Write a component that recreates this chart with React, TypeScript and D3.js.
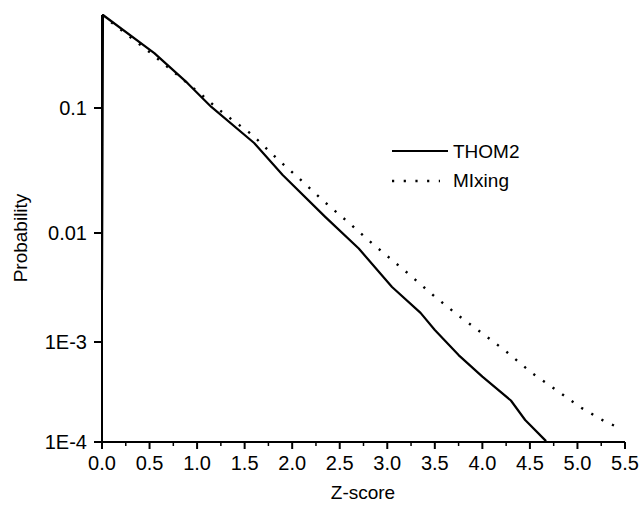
import React from 'react'
import * as d3 from 'd3'

// Z-score positions and probabilities
const thomZ = [0, 0.01, 0.55, 0.9, 1.15, 1.6, 1.9, 2.35, 2.7, 3.05, 3.35, 3.5, 3.75, 4.0, 4.3, 4.45, 4.67]
const thomP = [0.003, 0.555, 0.275, 0.158, 0.102, 0.0525, 0.0291, 0.0134, 0.0072, 0.0032, 0.00185, 0.00129, 0.00074, 0.00045, 0.00026, 0.000166, 0.000102]

const mixZ = [0, 0.5, 1.05, 1.17, 1.3, 1.58, 1.83, 2.08, 2.33, 2.6, 2.85, 3.24, 3.48, 3.74, 4.0, 4.26, 4.52, 4.78, 5.04, 5.29, 5.43]
const mixP = [0.555, 0.28, 0.127, 0.106, 0.088, 0.061, 0.04, 0.027, 0.018, 0.012, 0.0079, 0.0041, 0.0027, 0.00177, 0.0012, 0.00079, 0.00049, 0.00033, 0.00022, 0.00016, 0.00014]

const xTicks = [0, 0.5, 1, 1.5, 2, 2.5, 3, 3.5, 4, 4.5, 5, 5.5]
const xMinor = [0.25, 0.75, 1.25, 1.75, 2.25, 2.75, 3.25, 3.75, 4.25, 4.75, 5.25]
const yTicks = [0.1, 0.01, 0.001, 0.0001]
const yTickLabels = ['0.1', '0.01', '1E-3', '1E-4']

const seriesNames = ['THOM2', 'MIxing']

const font = 'Arial, "Liberation Sans", Helvetica, sans-serif'

function App() {
    const w = 643
    const h = 506

    const x = d3.scaleLinear().domain([0, 5.5]).range([102, 625])
    // the scanned figure has uneven decade spacing, so the log scale is piecewise
    const y = d3.scaleLog()
        .domain([0.0001, 0.001, 0.01, 0.1, 0.555])
        .range([442, 342, 233, 108, 15])

    const thomPath = d3.line<number>()
        .x((d) => x(d))
        .y((d, i) => y(thomP[i]))(thomZ)
    const mixPath = d3.line<number>()
        .x((d) => x(d))
        .y((d, i) => y(mixP[i]))(mixZ)

    const x0 = x(0)
    const y0 = y(0.0001)

    return (
        <svg width={w} height={h} style={{ position: 'absolute', left: 0, top: 0, background: '#fff' }}
            fontFamily={font}>
            <rect width={w} height={h} fill="#fff" />

            {/* axes */}
            <line x1={x0} x2={x0} y1={y(0.555)} y2={y0} stroke="#000" strokeWidth={2} />
            <line x1={x0} x2={x(5.5)} y1={y0} y2={y0} stroke="#000" strokeWidth={2} />

            {xTicks.map((t) => (
                <g key={t}>
                    <line x1={x(t)} x2={x(t)} y1={y0} y2={y0 + 7} stroke="#000" strokeWidth={2} />
                    <text x={x(t)} y={470} fontSize={20} textAnchor="middle" fill="#000">{d3.format('.1f')(t)}</text>
                </g>
            ))}
            {xMinor.map((t) => (
                <line key={t} x1={x(t)} x2={x(t)} y1={y0} y2={y0 + 4} stroke="#000" strokeWidth={1.5} />
            ))}

            {yTicks.map((t, i) => (
                <g key={t}>
                    <line x1={x0 - 8} x2={x0} y1={y(t)} y2={y(t)} stroke="#000" strokeWidth={2} />
                    <text x={87} y={y(t)} dy="0.36em" fontSize={20} textAnchor="end" fill="#000">{yTickLabels[i]}</text>
                </g>
            ))}

            <text x={363} y={499} fontSize={19} textAnchor="middle" fill="#000">Z-score</text>
            <text transform="translate(27,238) rotate(-90)" fontSize={19} textAnchor="middle" fill="#000">Probability</text>

            {/* data */}
            <path d={thomPath || ''} fill="none" stroke="#000" strokeWidth={2.2} strokeLinejoin="round" />
            <path d={mixPath || ''} fill="none" stroke="#000" strokeWidth={2.4} strokeDasharray="2.2 9.5" />

            {/* legend */}
            <line x1={392} x2={448} y1={151} y2={151} stroke="#000" strokeWidth={2.2} />
            <text x={453} y={158} fontSize={19} fill="#000">{seriesNames[0]}</text>
            <line x1={392} x2={440} y1={181} y2={181} stroke="#000" strokeWidth={2.4} strokeDasharray="2.2 9.5" />
            <text x={453} y={187} fontSize={19} fill="#000">{seriesNames[1]}</text>
        </svg>
    )
}

export default App
